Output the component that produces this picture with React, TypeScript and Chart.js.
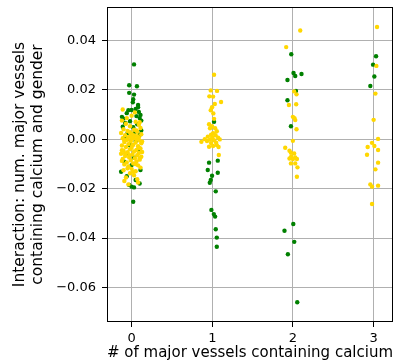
import React, { useEffect, useRef } from "react";
import { Chart, registerables } from "chart.js";

Chart.register(...registerables);

const categories = [0, 1, 2, 3];
const yTicks = [-0.06, -0.04, -0.02, 0.0, 0.02, 0.04];

// green series (jittered category position, interaction value)
const greenX = [
  0.03, -0.03, 0.066, -0.03, 0.03, 0.02, 0.015, 0.08, -0.04, -0.06, 0.09, 0.05, -0.1, 0.1, 0.06, -0.02,
  0.12, -0.08, 0.07, -0.11, 0.02, 0.04, -0.05, 0.1, -0.08, 0.05, -0.02, 0.08, -0.07, 0.03, 0.0, -0.13,
  0.11, -0.06, 0.05, 0.1, 0.0, -0.03, 0.03, 0.02, 0.11, -0.12, 0.0, 0.08, -0.09, 0.12,
  1.022, 1.068, 0.96, 0.944, 1.068, 0.997, 0.981, 0.969, 1.043, 0.989, 1.019, 1.035, 1.043, 1.056, 1.056,
  1.979, 2.007, 2.028, 2.106, 1.932, 2.037, 1.932, 1.975, 1.895, 1.937, 2.004, 2.016, 2.053,
  3.03, 2.993, 3.009, 2.959,
];
const greenY = [
  0.0302, 0.0218, 0.0214, 0.0187, 0.018, 0.0161, 0.0149, 0.0129, 0.0117, 0.0105, 0.011, 0.0122, 0.0083, 0.0085, 0.0093, 0.0072,
  0.0075, 0.0065, 0.006, 0.005, 0.0048, 0.003, 0.0025, 0.0018, 0.0008, -0.0008, -0.0025, -0.0045, -0.006, -0.0075, -0.0105, -0.0132,
  -0.0125, -0.015, -0.0165, -0.0179, -0.0192, -0.0185, -0.0195, -0.0253, 0.0098, 0.009, 0.0118, 0.0138, -0.0091, 0.0035,
  0.007, -0.0087, -0.0095, -0.0125, -0.0136, -0.0148, -0.0165, -0.0176, -0.0211, -0.0286, -0.0303, -0.0313, -0.0364, -0.0398, -0.0435,
  0.0343, 0.0267, 0.0255, 0.0263, 0.0239, 0.0195, 0.0157, 0.0052, -0.037, -0.0465, -0.0343, -0.0415, -0.0659,
  0.0335, 0.0301, 0.0253, 0.0215,
];

// yellow series
const yellowX = [
  -0.12, 0.0, 0.05, -0.07, 0.09, -0.02, 0.11, -0.1, 0.03, -0.05, 0.07, -0.13, 0.0, 0.12, -0.08, 0.04,
  -0.03, 0.09, -0.11, 0.02, 0.06, -0.06, 0.1, -0.01, -0.09, 0.05, 0.12, -0.04, 0.02, -0.12, 0.08, -0.07,
  0.0, 0.11, -0.02, 0.06, -0.1, 0.03, -0.05, 0.09, -0.13, 0.01, 0.07, -0.08, 0.12, -0.03, 0.04, -0.11,
  0.1, -0.01, 0.06, -0.06, 0.02, -0.09, 0.08, -0.04, 0.11, 0.0, -0.1, 0.05, -0.02, 0.03, -0.07, 0.07,
  -0.09, 0.08, -0.04, -0.11, 0.04, -0.06, 0.1, 0.06, -0.09, 0.13, -0.12, 0.13, -0.12, 0.03, -0.03, 0.05,
  0.0, -0.05, 0.09, -0.08, 0.01, 0.07, -0.02, 0.1, -0.05, 0.02,
  1.022, 0.981, 1.059, 0.964, 1.01, 1.109, 1.031, 0.997, 0.981, 1.013, 1.022, 0.96, 0.997, 0.972, 1.035,
  1.056, 1.01, 0.985, 1.041, 0.944, 1.0, 1.072, 0.907, 0.972, 1.022, 1.093, 0.865, 0.935, 1.047, 0.985,
  1.056, 1.078, 1.01, 1.081, 0.96,
  2.09, 1.916, 2.015, 2.044, 1.95, 2.04, 1.999, 2.019, 2.028, 2.044, 1.999, 1.904, 1.957, 1.975, 2.015,
  1.978, 2.028, 1.999, 2.049, 1.975, 2.028, 2.056, 2.049, 1.957,
  3.042, 3.034, 3.022, 3.0, 3.055, 2.98, 3.009, 2.926, 3.055, 2.918, 3.055, 3.022, 2.959, 2.98, 3.055, 2.98,
];
const yellowY = [
  0.0075, 0.0095, 0.007, 0.0062, 0.0058, 0.0052, 0.0045, 0.004, 0.0038, 0.0033, 0.003, 0.0025, 0.0022, 0.002, 0.0016, 0.0013,
  0.001, 0.0007, 0.0004, 0.0002, -0.0001, -0.0003, -0.0006, -0.0009, -0.0012, -0.0014, -0.0017, -0.002, -0.0023, -0.0026, -0.0029, -0.0032,
  -0.0035, -0.0038, -0.0041, -0.0044, -0.0047, -0.005, -0.0053, -0.0056, -0.0059, -0.0062, -0.0065, -0.0068, -0.0071, -0.0074, -0.0077, -0.008,
  -0.0083, -0.0086, -0.009, -0.0094, -0.0098, -0.0102, -0.0106, -0.011, -0.0115, -0.012, -0.0126, -0.013, -0.0138, -0.0146, -0.0155, -0.0162,
  -0.0169, -0.0175, -0.0183, 0.012, 0.0108, 0.0085, 0.0068, 0.0035, -0.0005, -0.001, -0.0045, -0.0052, -0.0088, 0.0015, -0.0065, -0.0101,
  0.0005, 0.0001, -0.0035, -0.0058, -0.0025, 0.0012, 0.0028, -0.0078, -0.0118, -0.0132,
  0.026, 0.0197, 0.0195, 0.0173, 0.0172, 0.015, 0.0142, 0.0129, 0.0117, 0.0104, 0.0082, 0.006, 0.0052, 0.0044, 0.0044,
  0.0032, 0.0024, 0.0018, 0.0016, 0.001, 0.0008, 0.0006, 0.0, -0.0002, -0.0004, -0.0001, -0.0011, -0.0008, -0.0014, -0.0016,
  -0.0024, -0.0032, -0.0028, -0.0064, -0.0031,
  0.0439, 0.0372, 0.0193, 0.0181, 0.0138, 0.0141, 0.009, 0.0085, 0.0077, 0.004, -0.0007, -0.0035, -0.0047, -0.0055, -0.0058,
  -0.0071, -0.0074, -0.008, -0.008, -0.0098, -0.0098, -0.0114, -0.0152, -0.0078,
  0.0453, 0.0296, 0.0184, 0.0078, 0.0001, -0.0015, -0.0028, -0.0032, -0.0044, -0.0063, -0.0095, -0.0122, -0.0183, -0.0192, -0.0188, -0.0262,
];

const xLabel = "# of major vessels containing calcium";
const yLabel = ["Interaction: num. major vessels", "containing calcium and gender"];

const FONT = "'DejaVu Sans', sans-serif";

const boxPlugin = {
  id: "boxPlugin",
  afterDraw(chart: any) {
    const { ctx, chartArea } = chart;
    ctx.save();
    ctx.strokeStyle = "#000";
    ctx.lineWidth = 1;
    ctx.strokeRect(
      Math.round(chartArea.left) + 0.5,
      Math.round(chartArea.top) + 0.5,
      Math.round(chartArea.right - chartArea.left) - 1,
      Math.round(chartArea.bottom - chartArea.top) - 1
    );
    ctx.restore();
  },
};

export default function App() {
  const ref = useRef<HTMLCanvasElement | null>(null);
  useEffect(() => {
    if (!ref.current) return;
    const toPts = (xs: number[], ys: number[]) => xs.map((x, i) => ({ x, y: ys[i] }));
    const chart = new Chart(ref.current, {
      type: "scatter",
      data: {
        datasets: [
          {
            data: toPts(yellowX, yellowY),
            backgroundColor: "#ffd700",
            borderWidth: 0,
            pointRadius: 2.2,
          },
          {
            data: toPts(greenX, greenY),
            backgroundColor: "#008000",
            borderWidth: 0,
            pointRadius: 2.2,
          },
        ],
      },
      options: {
        responsive: false,
        animation: false,
        devicePixelRatio: 1,
        layout: { padding: { left: 0, right: 7, top: 7, bottom: 0 } },
        plugins: { legend: { display: false }, tooltip: { enabled: false } },
        scales: {
          x: {
            type: "linear",
            min: -0.305,
            max: 3.24,
            afterBuildTicks: (s: any) => {
              s.ticks = categories.map((v) => ({ value: v }));
            },
            afterFit: (s: any) => {
              s.height = 41;
              s.paddingLeft = 0;
              s.paddingRight = 0;
            },
            grid: { color: "#b0b0b0", lineWidth: 1, tickColor: "#000", tickLength: 5, drawTicks: true },
            border: { display: false },
            ticks: {
              color: "#000",
              font: { family: FONT, size: 13 },
              padding: 4,
              maxRotation: 0,
              callback: (v: any) => String(v),
            },
            title: {
              display: true,
              text: xLabel,
              color: "#000",
              font: { family: FONT, size: 15.5 },
              padding: { top: 0, bottom: 1 },
            },
          },
          y: {
            type: "linear",
            min: -0.0739,
            max: 0.0534,
            afterBuildTicks: (s: any) => {
              s.ticks = yTicks.map((v) => ({ value: v }));
            },
            afterFit: (s: any) => {
              s.width = 107;
              s.paddingTop = 0;
              s.paddingBottom = 0;
            },
            grid: { color: "#b0b0b0", lineWidth: 1, tickColor: "#000", tickLength: 5, drawTicks: true },
            border: { display: false },
            ticks: {
              color: "#000",
              font: { family: FONT, size: 13 },
              padding: 6,
              callback: (v: any) => {
                const n = Number(v);
                const s = Math.abs(n).toFixed(2);
                return n < -1e-9 ? "\u2212" + s : s;
              },
            },
            title: {
              display: true,
              text: yLabel,
              color: "#000",
              font: { family: FONT, size: 15.5, lineHeight: 1.2 },
              padding: { top: 10.5, bottom: 0 },
            },
          },
        },
      },
      plugins: [boxPlugin],
    } as any);
    return () => chart.destroy();
  }, []);
  return (
    <div style={{ position: "absolute", left: 0, top: 0, width: 400, height: 363, background: "#fff" }}>
      <canvas ref={ref} width={400} height={363} />
    </div>
  );
}
